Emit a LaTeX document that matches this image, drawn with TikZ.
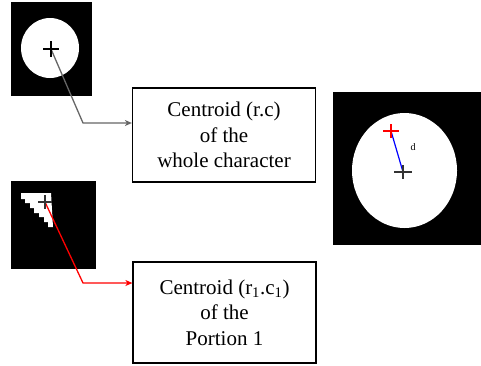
\documentclass[tikz,border=0pt]{standalone}
\usepackage{fontspec}
\setmainfont{Liberation Serif}
\usetikzlibrary{arrows.meta}
\begin{document}
\begin{tikzpicture}[x=1pt,y=-1pt,
  labelbox/.style={draw=black,line width=1.2pt,minimum width=183pt,inner sep=0pt,align=center,font=\rmfamily\fontsize{21}{25.5}\selectfont},
  crossmark/.style={line width=1.1pt},
  conn/.style={line width=1.3pt,-{Stealth[length=7pt,width=6pt,inset=2pt]}}]
\useasboundingbox (0,0) rectangle (481,365);
% top-left image
\fill[black] (11,2) rectangle (92,96);
\fill[white] (50,48) ellipse (29 and 30);
% bottom-left image
\fill[black] (11,181) rectangle (96,269);
\fill[white] (21,193) -- (51,193) -- (53,227) -- (48,227) -- (48,222) -- (44,222) -- (44,217) -- (39,217) -- (39,213) -- (34,213) -- (34,208) -- (30,208) -- (30,203) -- (25,203) -- (25,199) -- (21,199) -- cycle;
% right image
\fill[black] (333,92) rectangle (481,245);
\fill[white] (404.5,170.5) ellipse (52.5 and 57.5);
% boxes
\node[labelbox,minimum height=94pt] (b1) at (224,135) {Centroid (r.c)\\of the\\whole character};
\node[labelbox,minimum height=101pt] (b2) at (224.5,312.5) {Centroid (r\textsubscript{1}.c\textsubscript{1})\\of the\\Portion 1};
% centroids
\coordinate (c0) at (51,49);
\coordinate (c1) at (45,202);
\coordinate (k1) at (83,123);
\coordinate (k2) at (83,283);
\draw[conn,draw=black!60] (c0) -- (k1) -- (b1.west |- k1);
\draw[conn,draw=red] (c1) -- (k2) -- (b2.west |- k2);
\draw[crossmark] (43,49) -- (59,49) (51,41) -- (51,57);
\draw[crossmark,black!80] (38,202) -- (52,202) (45,195) -- (45,209);
% right crosses
\coordinate (rc) at (391,131);
\coordinate (bc) at (403,172);
\draw[blue,line width=1.2pt] (rc) -- (bc);
\draw[crossmark,draw=red] (383,131) -- (399,131) (391,124) -- (391,138);
\draw[crossmark,black!80] (394,172) -- (412,172) (403,165) -- (403,179);
\node[font=\rmfamily\fontsize{10}{10}\selectfont,inner sep=0pt] (d) at (413,147) {d};
\end{tikzpicture}
\end{document}
